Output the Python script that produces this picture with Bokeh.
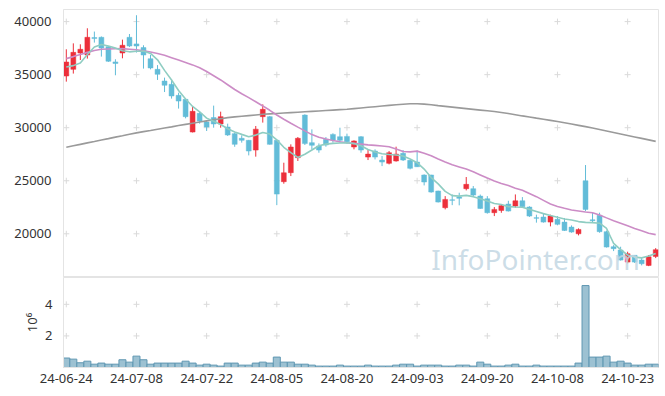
from bokeh.plotting import figure
from bokeh.layouts import column
from bokeh.models import ColumnDataSource, Range1d, FixedTicker, Label
from bokeh.embed import file_html
from bokeh.resources import INLINE

dates = [
    "24-06-24", "24-06-25", "24-06-26", "24-06-27", "24-06-28",
    "24-07-01", "24-07-02", "24-07-03", "24-07-04", "24-07-05",
    "24-07-08", "24-07-09", "24-07-10", "24-07-11", "24-07-12",
    "24-07-15", "24-07-16", "24-07-17", "24-07-18", "24-07-19",
    "24-07-22", "24-07-23", "24-07-24", "24-07-25", "24-07-26",
    "24-07-29", "24-07-30", "24-07-31", "24-08-01", "24-08-02",
    "24-08-05", "24-08-06", "24-08-07", "24-08-08", "24-08-09",
    "24-08-12", "24-08-13", "24-08-14", "24-08-16", "24-08-19",
    "24-08-20", "24-08-21", "24-08-22", "24-08-23", "24-08-26",
    "24-08-27", "24-08-28", "24-08-29", "24-08-30", "24-09-02",
    "24-09-03", "24-09-04", "24-09-05", "24-09-06", "24-09-09",
    "24-09-10", "24-09-11", "24-09-12", "24-09-13", "24-09-19",
    "24-09-20", "24-09-23", "24-09-24", "24-09-25", "24-09-26",
    "24-09-27", "24-09-30", "24-10-02", "24-10-04", "24-10-07",
    "24-10-08", "24-10-10", "24-10-11", "24-10-14", "24-10-15",
    "24-10-16", "24-10-17", "24-10-18", "24-10-21", "24-10-22",
    "24-10-23", "24-10-24", "24-10-25", "24-10-28", "24-10-29",
]

opens = [34870, 35500, 37040, 36850, 38500, 38520, 37640, 36200, 37040, 38520,
         37900, 37550, 36500, 35500, 34400, 34090, 33050, 32670, 29590, 31350,
         30530, 30950, 30350, 30060, 29440, 29000, 28810, 27890, 31040, 31040,
         28810, 24910, 25760, 27170, 31190, 28590, 28270, 28900, 29370, 29150,
         29180, 28180, 29150, 27230, 27800, 26950, 26640, 26860, 27580, 26920,
         26760, 25540, 25540, 24030, 22460, 23200, 23460, 24250, 24250, 23550,
         23300, 21990, 22200, 22800, 22610, 23110, 22520, 21520, 21580, 21100,
         21360, 21100, 20630, 20000, 25000, 21320, 21740, 20200, 18780, 18470,
         17330, 17970, 17520, 17020, 17870]
highs = [37390, 37950, 37860, 39370, 39060, 38600, 37700, 36450, 38300, 38830,
         40600, 37770, 36850, 35900, 34720, 34560, 33300, 32740, 31950, 31570,
         30720, 32080, 31510, 30380, 29530, 29280, 28850, 30160, 32200, 31100,
         28850, 26700, 28430, 29120, 31260, 29840, 28520, 29120, 29470, 30000,
         29440, 28810, 29200, 27960, 27960, 27330, 27800, 28210, 27890, 26950,
         27850, 25600, 25560, 24060, 23550, 23710, 23870, 25350, 24500, 23700,
         23550, 22520, 22750, 23110, 23710, 23460, 22600, 21800, 21890, 21800,
         21670, 21490, 20790, 20510, 26480, 21990, 21990, 20300, 18930, 18780,
         18310, 18000, 17750, 18000, 18650]
lows = [34340, 35100, 36380, 36510, 38020, 36700, 36200, 34940, 36540, 37600,
        37080, 35570, 35500, 34500, 33360, 32740, 31800, 30880, 29550, 30380,
        29690, 30000, 30000, 29220, 28200, 28590, 27390, 27270, 30480, 28400,
        22700, 24720, 25440, 26860, 28370, 27960, 27640, 28210, 28590, 28590,
        28500, 27960, 27640, 26950, 27010, 26380, 26540, 26800, 26860, 26070,
        26300, 24560, 23870, 22950, 22300, 22700, 22680, 24090, 23460, 22350,
        21900, 21670, 21980, 22100, 22460, 22460, 21580, 21050, 21050, 20700,
        20800, 20260, 20100, 19850, 22140, 21050, 20100, 18700, 18370, 17480,
        17210, 17250, 17020, 16950, 17710]
closes = [36190, 37100, 37390, 38520, 38400, 37510, 36260, 36050, 37770, 37700,
          37700, 36850, 35630, 35030, 34000, 32990, 32510, 31040, 31540, 30630,
          30060, 30350, 31040, 29310, 28430, 28810, 27800, 29860, 31730, 28430,
          23740, 25750, 28180, 29000, 28500, 28340, 27890, 28370, 28840, 28810,
          28680, 28750, 27890, 27510, 27230, 26760, 27640, 27510, 26950, 26170,
          26320, 24880, 23930, 22990, 23240, 23150, 23340, 24660, 23650, 22390,
          21990, 22300, 22650, 22140, 23110, 22560, 21670, 21460, 21100, 21670,
          20890, 20320, 20160, 20410, 22300, 21240, 20200, 18750, 18600, 17520,
          18120, 17330, 17180, 17830, 18500]
volumes = [600000, 530000, 300000, 400000, 210000, 280000, 210000, 210000, 490000, 340000,
           720000, 490000, 210000, 280000, 280000, 280000, 280000, 400000, 280000, 150000,
           210000, 150000, 90000, 280000, 280000, 150000, 150000, 280000, 340000, 280000,
           660000, 340000, 340000, 210000, 210000, 150000, 90000, 90000, 90000, 150000,
           90000, 90000, 90000, 150000, 90000, 90000, 90000, 150000, 210000, 210000,
           90000, 150000, 150000, 150000, 90000, 90000, 150000, 150000, 90000, 340000,
           210000, 90000, 90000, 150000, 210000, 90000, 90000, 150000, 90000, 90000,
           90000, 90000, 90000, 280000, 5190000, 660000, 660000, 720000, 340000, 400000,
           280000, 150000, 150000, 210000, 210000]
ma5 = [35720, 35850, 36100, 36900, 37600, 37850, 37700, 37500, 37250, 37150,
       37200, 37230, 37000, 36400, 35400, 34500, 33500, 32700, 32000, 31500,
       30900, 30600, 30300, 29900, 29600, 29370, 29150, 29300, 29550, 29400,
       28850, 28150, 27650, 27200, 27500, 27900, 28300, 28450, 28520, 28560,
       28580, 28500, 28300, 27950, 27700, 27550, 27480, 27420, 27330, 27050,
       26700, 26100, 25300, 24700, 24000, 23600, 23550, 23620, 23500, 23300,
       23100, 22850, 22760, 22560, 22520, 22500, 22300, 22100, 21900, 21720,
       21550, 21400, 21300, 21150, 21080, 21050, 21000, 20500, 19100, 18500,
       18000, 17800, 17730, 17900, 18150]
ma20 = [36510, 36700, 36900, 37100, 37280, 37390, 37420, 37440, 37450, 37400,
        37340, 37250, 37130, 37000, 36820, 36600, 36380, 36150, 35920, 35650,
        35300, 34900, 34500, 34050, 33600, 33200, 32830, 32450, 32050, 31640,
        31200, 30800, 30420, 30050, 29700, 29350, 29100, 28930, 28800, 28680,
        28580, 28520, 28450, 28380, 28330, 28280, 28200, 28000, 27760, 27720,
        27790, 27600, 27350, 27050, 26760, 26500, 26300, 26100, 25850, 25550,
        25250, 24970, 24750, 24550, 24300, 24100, 23800, 23500, 23150, 22800,
        22580, 22400, 22250, 22150, 22050, 21990, 21780, 21500, 21240, 21000,
        20750, 20500, 20280, 20050, 19920]
ma120 = [28150, 28290, 28430, 28570, 28700, 28840, 28970, 29110, 29240, 29380,
         29510, 29630, 29740, 29860, 29970, 30080, 30200, 30310, 30420, 30530,
         30640, 30750, 30850, 30950, 31020, 31080, 31140, 31200, 31260, 31300,
         31340, 31380, 31420, 31460, 31500, 31540, 31580, 31620, 31660, 31700,
         31740, 31800, 31860, 31920, 31980, 32040, 32100, 32160, 32210, 32250,
         32260, 32220, 32160, 32080, 32010, 31940, 31870, 31800, 31730, 31660,
         31590, 31520, 31430, 31330, 31220, 31110, 31010, 30900, 30800, 30690,
         30580, 30460, 30340, 30220, 30100, 29970, 29830, 29690, 29550, 29410,
         29270, 29130, 28990, 28850, 28710]

price_ticks = [20000, 25000, 30000, 35000, 40000]
volume_ticks = [2000000, 4000000]
volume_tick_labels = ["2", "4"]
date_tick_idx = [0, 10, 20, 30, 40, 50, 60, 70, 80]

UP = "#ec2f3a"
DOWN = "#62bcd8"
GRID = "#dadada"
BORDER = "#e4e4e4"
FONT = "Noto Sans"
TXT = "#333333"

idx = list(range(len(dates)))
colors = [UP if c >= o else DOWN for o, c in zip(opens, closes)]
src = ColumnDataSource(dict(
    x=idx, o=opens, h=highs, l=lows, c=closes, v=volumes,
    top=[max(o, c) for o, c in zip(opens, closes)],
    bot=[min(o, c) for o, c in zip(opens, closes)],
    color=colors, ma5=ma5, ma20=ma20, ma120=ma120,
))

xr = Range1d(-0.4, 84.4)

p = figure(width=660, height=277, x_range=xr, y_range=Range1d(15880, 41140),
           output_backend="svg", toolbar_location=None, x_axis_location=None,
           min_border_left=63, min_border_right=2, min_border_top=9, min_border_bottom=0)
p.grid.visible = False
p.outline_line_color = BORDER
p.yaxis.ticker = FixedTicker(ticks=price_ticks)
p.yaxis.axis_line_color = BORDER
p.yaxis.major_tick_line_color = None
p.yaxis.minor_tick_line_color = None
p.yaxis.major_label_standoff = 6
p.yaxis.major_label_text_font = FONT
p.yaxis.major_label_text_font_size = "13px"
p.yaxis.major_label_text_color = TXT

gx = [t for t in date_tick_idx for _ in price_ticks]
gy = [y for _ in date_tick_idx for y in price_ticks]
p.scatter(gx, gy, marker="cross", size=6, line_color=GRID, line_width=1)

p.add_layout(Label(x=52.0, y=17650, text="InfoPointer.com", text_font=FONT,
                   text_font_size="28px", text_color="#c3d7e3", text_alpha=0.85,
                   text_baseline="alphabetic"))

p.segment(x0="x", y0="h", x1="x", y1="l", color="color", line_width=1, source=src)
p.vbar(x="x", top="top", bottom="bot", width=0.7, fill_color="color",
       line_color="color", line_width=0.5, source=src)

p.line("x", "ma120", color="#9a9a9a", line_width=1.6, source=src)
p.line("x", "ma20", color="#cc8cc6", line_width=1.6, source=src)
p.line("x", "ma5", color="#8fcdc2", line_width=1.6, source=src)

v = figure(width=660, height=112, x_range=xr, y_range=Range1d(0, 5700000),
           output_backend="svg", toolbar_location=None,
           min_border_left=63, min_border_right=2, min_border_top=0, min_border_bottom=22)
v.grid.visible = False
v.outline_line_color = BORDER
v.yaxis.ticker = FixedTicker(ticks=volume_ticks)
v.yaxis.major_label_overrides = dict(zip(volume_ticks, volume_tick_labels))
v.yaxis.axis_line_color = BORDER
v.yaxis.major_tick_line_color = None
v.yaxis.minor_tick_line_color = None
v.yaxis.major_label_standoff = 5
v.yaxis.major_label_text_font = FONT
v.yaxis.major_label_text_font_size = "13px"
v.yaxis.major_label_text_color = TXT
v.yaxis.axis_label = "10⁶"
v.yaxis.axis_label_text_font = FONT
v.yaxis.axis_label_text_font_size = "13px"
v.yaxis.axis_label_text_font_style = "normal"
v.yaxis.axis_label_text_color = TXT
v.yaxis.axis_label_standoff = 1

v.xaxis.ticker = FixedTicker(ticks=date_tick_idx)
v.xaxis.major_label_overrides = {i: dates[i] for i in date_tick_idx}
v.xaxis.axis_line_color = BORDER
v.xaxis.major_tick_line_color = None
v.xaxis.minor_tick_line_color = None
v.xaxis.major_label_standoff = 0
v.xaxis.major_label_text_font = FONT
v.xaxis.major_label_text_font_size = "13px"
v.xaxis.major_label_text_color = TXT

vgx = [t for t in date_tick_idx for _ in volume_ticks]
vgy = [y for _ in date_tick_idx for y in volume_ticks]
v.scatter(vgx, vgy, marker="cross", size=6, line_color=GRID, line_width=1)

v.vbar(x="x", top="v", bottom=0, width=1.0, fill_color="#9cc1d2",
       line_color="#5f97b2", line_width=1, source=src)

layout = column(p, v)
open("out.html", "w").write(file_html(layout, INLINE))
